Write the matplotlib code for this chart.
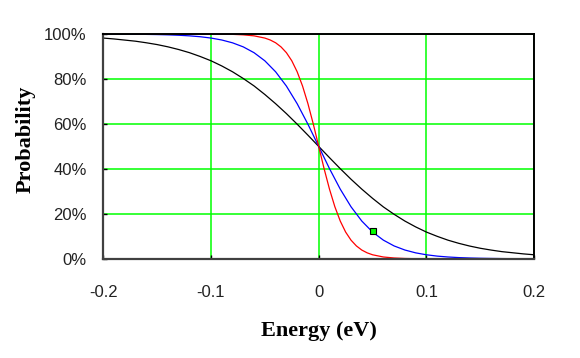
import numpy as np
import matplotlib.pyplot as plt
from matplotlib.ticker import PercentFormatter

# black curve (widest)
e_black = [-0.20, -0.19, -0.18, -0.17, -0.16, -0.15, -0.14, -0.13, -0.12, -0.11,
           -0.10, -0.09, -0.08, -0.07, -0.06, -0.05, -0.04, -0.03, -0.02, -0.01,
           0.00, 0.01, 0.02, 0.03, 0.04, 0.05, 0.06, 0.07, 0.08, 0.09,
           0.10, 0.11, 0.12, 0.13, 0.14, 0.15, 0.16, 0.17, 0.18, 0.19, 0.20]
p_black = [0.982, 0.978, 0.973, 0.968, 0.961, 0.953, 0.943, 0.931, 0.917, 0.900,
           0.881, 0.858, 0.832, 0.802, 0.769, 0.731, 0.690, 0.646, 0.599, 0.550,
           0.500, 0.450, 0.401, 0.354, 0.310, 0.269, 0.231, 0.198, 0.168, 0.142,
           0.119, 0.100, 0.083, 0.069, 0.057, 0.047, 0.039, 0.032, 0.027, 0.022, 0.018]

# blue curve
e_blue = e_black
p_blue = [0.9997, 0.9995, 0.9993, 0.9989, 0.9983, 0.9975, 0.9963, 0.9945, 0.9918, 0.9879,
          0.982, 0.9734, 0.9608, 0.9427, 0.9168, 0.8808, 0.832, 0.7685, 0.690, 0.5987,
          0.500, 0.4013, 0.310, 0.2315, 0.168, 0.1192, 0.0832, 0.0573, 0.0392, 0.0266,
          0.018, 0.0121, 0.0082, 0.0055, 0.0037, 0.0025, 0.0017, 0.0011, 0.0007, 0.0005, 0.0003]

# red curve (steepest)
e_red = [-0.15, -0.14, -0.13, -0.12, -0.11, -0.10, -0.09, -0.08, -0.07, -0.06,
         -0.05, -0.045, -0.04, -0.035, -0.03, -0.025, -0.02, -0.015, -0.01, -0.005,
         0.0, 0.005, 0.01, 0.015, 0.02, 0.025, 0.03, 0.035, 0.04, 0.045,
         0.05, 0.06, 0.07, 0.08, 0.09, 0.10, 0.11, 0.12, 0.13, 0.14, 0.15]
p_red = [1.0, 1.0, 1.0, 0.9999, 0.9998, 0.9997, 0.9994, 0.9985, 0.9963, 0.9918,
         0.982, 0.9734, 0.961, 0.9427, 0.917, 0.881, 0.832, 0.7685, 0.690, 0.599,
         0.500, 0.401, 0.310, 0.2315, 0.168, 0.119, 0.083, 0.0573, 0.039, 0.0266,
         0.018, 0.0082, 0.0037, 0.0015, 0.0006, 0.0003, 0.0002, 0.0001, 0.0, 0.0, 0.0]

point_e = [0.05]
point_p = [0.125]

xticks = [-0.2, -0.1, 0, 0.1, 0.2]
xticklabels = ['-0.2', '-0.1', '0', '0.1', '0.2']
yticks = [0, 0.2, 0.4, 0.6, 0.8, 1.0]

fig = plt.figure(figsize=(5.8, 3.58), dpi=100)
ax = fig.add_axes([0.178, 0.277, 0.743, 0.628])

ax.plot(e_black, p_black, color='black', lw=0.9)
ax.plot(e_blue, p_blue, color='blue', lw=0.9)
ax.plot(e_red, p_red, color='red', lw=0.9)
ax.plot(point_e, point_p, 's', ms=5, mfc='#00ff00', mec='black', mew=0.8)

ax.set_xlim(-0.2, 0.2)
ax.set_ylim(0, 1)
ax.set_xticks(xticks)
ax.set_xticklabels(xticklabels)
ax.set_yticks(yticks)
ax.yaxis.set_major_formatter(PercentFormatter(1.0, decimals=0))

ax.grid(True, color='#00ff00', lw=1.1)
ax.set_axisbelow(True)
for s in ax.spines.values():
    s.set_color('black')
    s.set_linewidth(1.4)
ax.spines['left'].set_color('#404040')
ax.spines['bottom'].set_color('#404040')
ax.spines['left'].set_linewidth(1.6)
ax.spines['bottom'].set_linewidth(1.6)

ax.tick_params(axis='x', direction='in', length=3, width=1, pad=19,
               top=False, labelsize=12, labelcolor='#222222')
ax.tick_params(axis='y', direction='in', length=3, width=1, pad=12,
               right=False, labelsize=12, labelcolor='#222222')
for lab in ax.get_xticklabels() + ax.get_yticklabels():
    lab.set_fontfamily('Liberation Sans')

ax.set_xlabel('Energy (eV)', fontfamily='Liberation Serif', fontweight='bold',
              fontsize=16, labelpad=15)
ax.set_ylabel('Probability', fontfamily='Liberation Serif', fontweight='bold',
              fontsize=16)
ax.yaxis.set_label_coords(-0.157, 0.53)

fig.savefig('out.png', dpi=100)
